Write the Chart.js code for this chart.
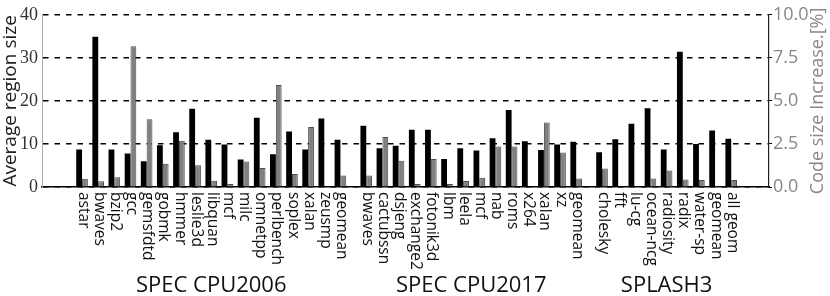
<!DOCTYPE html>
<html>
<head>
<meta charset="utf-8">
<script src="https://cdn.jsdelivr.net/npm/chart.js@4.4.0/dist/chart.umd.min.js"></script>
<style>
html, body { margin: 0; padding: 0; background: #fff; }
#c { display: block; }
</style>
</head>
<body>
<canvas id="c" width="830" height="296"></canvas>
<script>
// benchmark groups
var groupNames = ["SPEC CPU2006", "SPEC CPU2017", "SPLASH3"];
var bench2006 = ["astar", "bwaves", "bzip2", "gcc", "gemsfdtd", "gobmk", "hmmer", "leslie3d", "libquan", "mcf", "milc", "omnetpp", "perlbench", "soplex", "xalan", "zeusmp", "geomean"];
var bench2017 = ["bwaves", "cactubssn", "dsjeng", "exchange2", "fotonik3d", "lbm", "leela", "mcf", "nab", "roms", "x264", "xalan", "xz", "geomean"];
var benchSplash = ["cholesky", "fft", "lu-cg", "ocean-ncg", "radiosity", "radix", "water-sp", "geomean", "all geom"];

// average region size (left axis)
var region2006 = [8.7, 34.9, 8.7, 7.8, 6.0, 9.7, 12.7, 18.2, 11.0, 9.9, 6.4, 16.1, 7.6, 12.9, 8.7, 15.9, 11.0];
var region2017 = [14.2, 9.0, 9.6, 13.3, 13.3, 6.5, 9.0, 8.5, 11.3, 17.9, 10.6, 8.6, 9.9, 10.5];
var regionSplash = [8.1, 11.1, 14.7, 18.3, 8.7, 31.4, 10.0, 13.1, 11.2];

// code size increase in % (right axis)
var code2006 = [0.48, 0.33, 0.57, 8.17, 3.94, 1.35, 2.68, 1.26, 0.37, 0.17, 1.48, 1.11, 5.93, 0.76, 3.48, 0, 0.67];
var code2017 = [0.67, 2.9, 1.52, 0.18, 1.63, 0.18, 0.35, 0.53, 2.35, 2.35, 0, 3.74, 2.0, 0.5];
var codeSplash = [1.07, 0, 0, 0.5, 0.96, 0.44, 0.41, 0.07, 0.41];

var leftTicks = [0, 10, 20, 30, 40];
var rightTicks = [0, 2.5, 5, 7.5, 10];

var groups = [
  { names: bench2006, region: region2006, code: code2006 },
  { names: bench2017, region: region2017, code: code2017 },
  { names: benchSplash, region: regionSplash, code: codeSplash }
];

var gapExtra = 0.6;
var labels = [], pos = [], regionData = [], codeData = [], spans = [];
var cur = 0;
groups.forEach(function (g) {
  var first = cur;
  g.names.forEach(function (n, i) {
    labels.push(n);
    pos.push(cur);
    regionData.push({ x: cur, y: g.region[i] });
    codeData.push({ x: cur, y: g.code[i] });
    cur += 1;
  });
  spans.push([first, cur - 1]);
  cur += gapExtra;
});

var textPlugin = {
  id: "texts",
  afterDraw: function (chart) {
    var ctx = chart.ctx;
    var xs = chart.scales.x;
    ctx.save();
    ctx.fillStyle = "#111";
    ctx.font = '15.5px "Open Sans"';
    ctx.textAlign = "left";
    ctx.textBaseline = "middle";
    for (var i = 0; i < labels.length; i++) {
      var px = xs.getPixelForValue(pos[i]);
      ctx.save();
      ctx.translate(px + 1, 192);
      ctx.rotate(Math.PI / 2);
      ctx.fillText(labels[i], 0, 0);
      ctx.restore();
    }
    ctx.font = '22px "Open Sans"';
    ctx.textAlign = "center";
    ctx.textBaseline = "alphabetic";
    for (var j = 0; j < groupNames.length; j++) {
      var cx = (xs.getPixelForValue(spans[j][0]) + xs.getPixelForValue(spans[j][1])) / 2;
      ctx.fillText(groupNames[j], cx, 292);
    }
    // axis titles
    var ys = chart.scales.y;
    var midY = (ys.top + ys.bottom) / 2;
    ctx.save();
    ctx.fillStyle = "#222";
    ctx.font = '19px "Open Sans"';
    ctx.translate(16, midY);
    ctx.rotate(-Math.PI / 2);
    ctx.fillText("Average region size", 0, 0);
    ctx.restore();
    ctx.save();
    ctx.fillStyle = "#888";
    ctx.font = '18px "Open Sans"';
    ctx.translate(823, midY);
    ctx.rotate(-Math.PI / 2);
    ctx.fillText("Code size Increase.[%]", 0, 0);
    ctx.restore();
    ctx.restore();
  }
};

var chart = new Chart(document.getElementById("c").getContext("2d"), {
  type: "bar",
  data: {
    datasets: [
      {
        label: "Average region size",
        data: regionData,
        yAxisID: "y",
        backgroundColor: "#000",
        borderColor: "#000",
        borderWidth: 0
      },
      {
        label: "Code size Increase.[%]",
        data: codeData,
        yAxisID: "y1",
        backgroundColor: "#808080",
        borderColor: "#4d4d4d",
        borderWidth: 1
      }
    ]
  },
  options: {
    responsive: false,
    animation: false,
    devicePixelRatio: 1,
    categoryPercentage: 0.72,
    barPercentage: 1.0,
    layout: { padding: { top: 7, left: 0, right: 0, bottom: 0 } },
    plugins: { legend: { display: false }, tooltip: { enabled: false } },
    scales: {
      x: {
        type: "linear",
        position: "bottom",
        offset: false,
        min: -2.48,
        max: 42.54,
        afterBuildTicks: function (s) {
          s.ticks = pos.map(function (v) { return { value: v }; });
        },
        ticks: { display: false },
        grid: { display: false, offset: false },
        border: { display: true, color: "#000", width: 1.5 },
        afterFit: function (s) { s.height = 109; }
      },
      y: {
        position: "left",
        min: 0,
        max: 40,
        afterBuildTicks: function (s) {
          s.ticks = leftTicks.map(function (v) { return { value: v }; });
        },
        ticks: {
          color: "#333",
          font: { family: "Liberation Serif", size: 18 },
          padding: 4
        },
        grid: { color: "#000", lineWidth: 1.4, drawTicks: false },
        border: { display: true, color: "#aaa", width: 1, dash: [5.5, 6] },
        afterFit: function (s) { s.width = 42; }
      },
      y1: {
        position: "right",
        min: 0,
        max: 10,
        afterBuildTicks: function (s) {
          s.ticks = rightTicks.map(function (v) { return { value: v }; });
        },
        ticks: {
          color: "#888",
          font: { family: "Open Sans", size: 18 },
          padding: 1,
          callback: function (v) { return Number(v).toFixed(1); }
        },
        grid: { drawOnChartArea: false, drawTicks: true, tickLength: 3, color: "#000", lineWidth: 1 },
        border: { display: true, color: "#222", width: 1.2 },
        afterFit: function (s) { s.width = 61; }
      }
    }
  },
  plugins: [textPlugin]
});
</script>
</body>
</html>
